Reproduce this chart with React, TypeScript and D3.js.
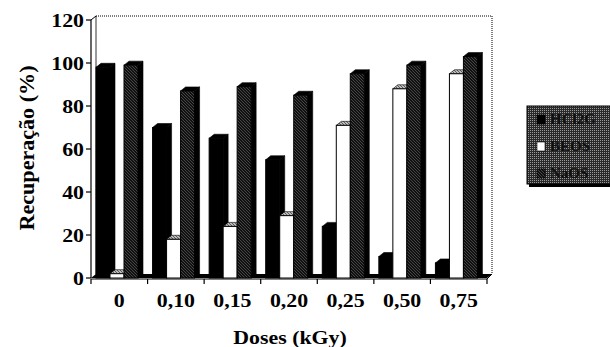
import React from 'react';
import * as d3 from 'd3';

// data
const doses = ['0', '0,10', '0,15', '0,20', '0,25', '0,50', '0,75'];
const seriesNames = ['HCl2G', 'BEOS', 'NaOS'];
const serieA = [98, 70, 65, 55, 24, 10, 7]; // black
const serieB = [2, 18, 24, 29, 71, 88, 95]; // white
const serieC = [99, 87, 89, 85, 95, 99, 103]; // hatched
const yTicks = [0, 20, 40, 60, 80, 100, 120];

const W = 610;
const H = 347;
const left = 91;
const right = 487;
const bottom = 278;
const top = 20;
const dx = 5; // 3d depth
const dy = 4;
const bw = 14;
const font = "Liberation Serif, Times New Roman, serif";

const x = d3.scaleBand<string>().domain(doses).range([left, right]).padding(0);
const y = d3.scaleLinear().domain([0, 120]).range([bottom, top]);

const pts = (p: number[][]) => p.map((d) => d.join(',')).join(' ');

function Bar({ x0, v, front, topFill, sideFill, stroke }: any) {
  const yt = y(v);
  const x1 = x0 + bw;
  return (
    <g>
      <polygon points={pts([[x1, bottom], [x1 + dx, bottom - dy], [x1 + dx, yt - dy], [x1, yt]])} fill={sideFill} stroke="#000" strokeWidth={0.6} />
      <polygon points={pts([[x0, yt], [x1, yt], [x1 + dx, yt - dy], [x0 + dx, yt - dy]])} fill={topFill} stroke="#000" strokeWidth={0.6} />
      <rect x={x0} y={yt} width={bw} height={bottom - yt} fill={front} stroke={stroke} strokeWidth={1} />
    </g>
  );
}

export default function App() {
  const series = [serieA, serieB, serieC];
  const styles = [
    { front: '#000', topFill: '#000', sideFill: '#000', stroke: '#000' },
    { front: '#fff', topFill: 'url(#hatchLight)', sideFill: '#000', stroke: '#000' },
    { front: 'url(#hatch)', topFill: '#000', sideFill: '#000', stroke: '#000' },
  ];
  const offsets = [5, 19, 33];
  const bounds = d3.range(doses.length + 1).map((i) => left + i * x.bandwidth());
  const txt = { fontFamily: font, fontWeight: 'bold' as const };

  return (
    <div style={{ position: 'fixed', left: 0, top: 0, width: W, height: H, background: '#fff' }}>
      <svg width={W} height={H} style={{ display: 'block' }}>
        <defs>
          <pattern id="hatch" width={3} height={3} patternUnits="userSpaceOnUse">
            <rect width={3} height={3} fill="#111" />
            <path d="M0,0 L3,3" stroke="#6a6a6a" strokeWidth={0.6} />
          </pattern>
          <pattern id="hatchLight" width={3} height={3} patternUnits="userSpaceOnUse">
            <rect width={3} height={3} fill="#bbb" />
            <path d="M0,0 L3,3" stroke="#333" strokeWidth={0.7} />
          </pattern>
          <pattern id="dither" width={2} height={2} patternUnits="userSpaceOnUse">
            <rect width={2} height={2} fill="#2a2a2a" />
            <rect width={1} height={1} fill="#9a9a9a" />
          </pattern>
        </defs>

        {/* back wall */}
        <line x1={left + dx} x2={right + dx} y1={top - dy} y2={top - dy} stroke="#000" strokeDasharray="1,1" />
        <line x1={right + dx} x2={right + dx} y1={top - dy} y2={bottom - dy} stroke="#000" strokeDasharray="1,1" />
        <line x1={left + dx} x2={left + dx} y1={top - dy} y2={bottom - dy} stroke="#000" strokeWidth={0.8} />
        <line x1={left} x2={left + dx} y1={top} y2={top - dy} stroke="#000" />

        {/* floor */}
        <polygon points={pts([[left, bottom], [right, bottom], [right + dx, bottom - dy], [left + dx, bottom - dy]])} fill="#000" />

        {/* bars */}
        {doses.map((d, i) => (
          <g key={d}>
            {series.map((s, j) => (
              <Bar key={j} x0={(x(d) as number) + offsets[j]} v={s[i]} {...styles[j]} />
            ))}
          </g>
        ))}

        {/* y axis */}
        <line x1={left} x2={left} y1={top} y2={bottom} stroke="#000" strokeWidth={1.2} />
        {yTicks.map((t) => (
          <g key={t}>
            <line x1={left - 5} x2={left} y1={y(t)} y2={y(t)} stroke="#000" strokeWidth={1.2} />
            <text transform={`translate(84,${y(t) + 7}) scale(1.15,1)`} textAnchor="end" fontSize={19} style={txt}>
              {t}
            </text>
          </g>
        ))}

        {/* x axis */}
        <line x1={left} x2={right} y1={bottom + 1} y2={bottom + 1} stroke="#000" strokeWidth={1.2} />
        <line x1={right} x2={right + dx} y1={bottom + 1} y2={bottom - dy} stroke="#000" />
        {bounds.map((b, i) => (
          <line key={i} x1={b} x2={b} y1={bottom + 1} y2={bottom + 6} stroke="#000" strokeWidth={1.2} />
        ))}
        {doses.map((d) => (
          <text
            key={d}
            transform={`translate(${(x(d) as number) + x.bandwidth() / 2},307) scale(1.15,1)`}
            textAnchor="middle"
            fontSize={19}
            style={txt}
          >
            {d}
          </text>
        ))}

        {/* titles */}
        <text transform="translate(290,344) scale(1.15,1)" textAnchor="middle" fontSize={19} style={txt}>
          Doses (kGy)
        </text>
        <text
          transform="translate(34,148) rotate(-90)"
          textAnchor="middle"
          fontSize={20}
          textLength={165}
          lengthAdjust="spacingAndGlyphs"
          style={txt}
        >
          Recuperação  (%)
        </text>

        {/* legend */}
        <g>
          <rect x={529} y={108} width={90} height={79} fill="#000" />
          <rect x={527} y={106} width={90} height={78} fill="url(#dither)" stroke="#000" />
          {seriesNames.map((n, i) => (
            <g key={n} transform={`translate(537,${115 + i * 27})`}>
              <rect width={8} height={9} fill={i === 0 ? '#000' : i === 1 ? '#fff' : 'url(#hatch)'} stroke="#000" strokeWidth={0.6} />
              <text x={13} y={9} fontSize={15} fill="#111" style={txt}>
                {n}
              </text>
            </g>
          ))}
        </g>
      </svg>
    </div>
  );
}
